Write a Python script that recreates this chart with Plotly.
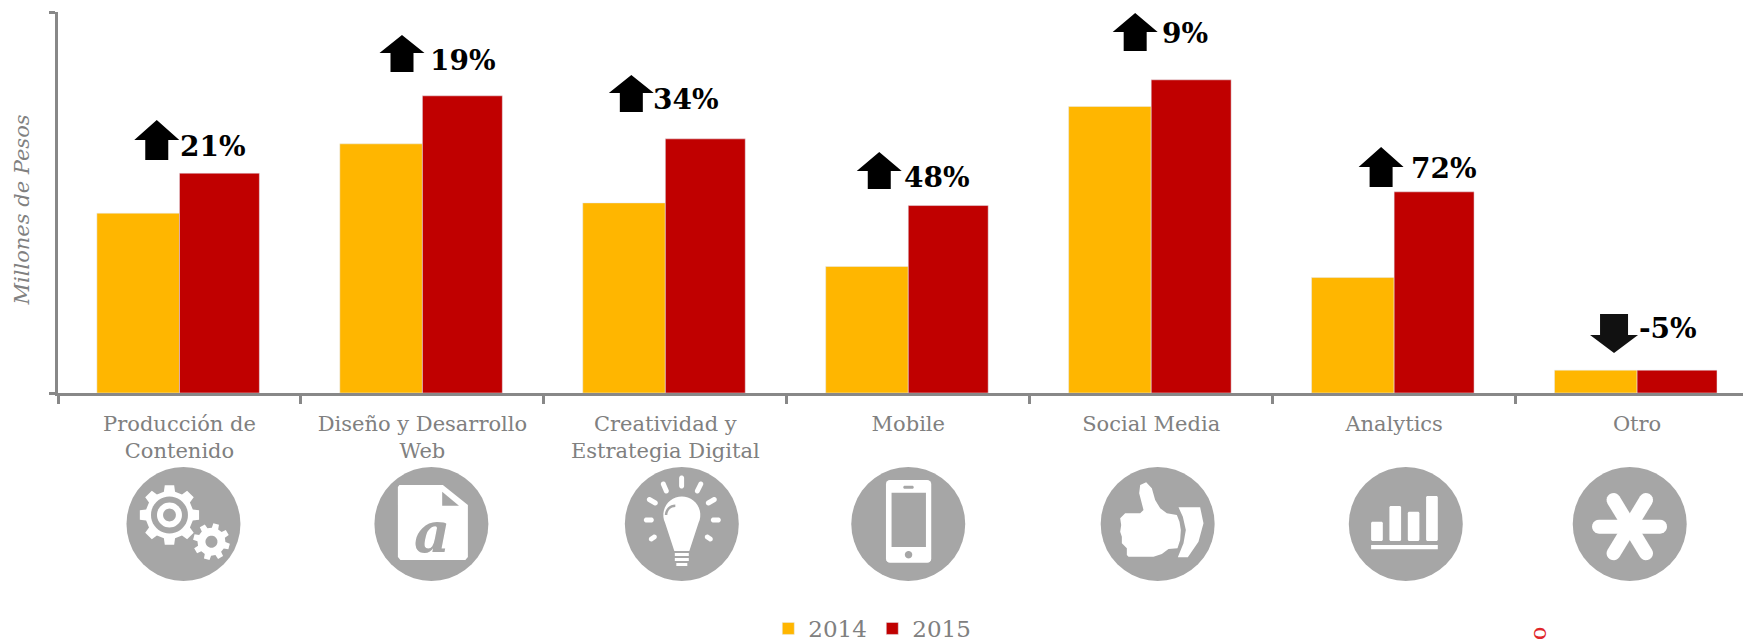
import math
import plotly.graph_objs as go

categorias = ["Producción de<br>Contenido", "Diseño y Desarrollo<br>Web", "Creatividad y<br>Estrategia Digital",
              "Mobile", "Social Media", "Analytics", "Otro"]
valores_2014 = [47.2, 65.4, 49.9, 33.2, 75.2, 30.3, 6.0]
valores_2015 = [57.7, 78.0, 66.7, 49.2, 82.2, 52.8, 6.0]
variaciones = ["21%", "19%", "34%", "48%", "9%", "72%", "-5%"]

# geometria de la pagina (px)
W, H = 1743, 642
L, R, T, B = 57.5, 1743, 12, 393
GRIS = "#888888"
CIRCULO = "#a6a6a6"
SERIF = "DejaVu Serif"


def px(x):
    return (x - L) / (R - L)


def py(y):
    return (B - y) / (B - T)


def ruta(puntos):
    return "M" + "L".join(f"{px(x):.5f},{py(y):.5f}" for x, y in puntos) + "Z"


def arco(cx, cy, r, a0, a1, n=10):
    return [(cx + r * math.cos(math.radians(a0 + (a1 - a0) * i / n)),
             cy + r * math.sin(math.radians(a0 + (a1 - a0) * i / n))) for i in range(n + 1)]


def forma(puntos, color="white"):
    return dict(type="path", xref="paper", yref="paper", path=ruta(puntos),
                fillcolor=color, line=dict(width=0), layer="above")


def disco(cx, cy, r, color="white"):
    return forma(arco(cx, cy, r, 0, 360, 40), color)


def capsula(x0, y0, x1, y1, ancho, color="white"):
    a = math.degrees(math.atan2(y1 - y0, x1 - x0))
    return forma(arco(x0, y0, ancho / 2, a + 90, a + 270) + arco(x1, y1, ancho / 2, a - 90, a + 90), color)


def caja(x0, y0, x1, y1, r=0, color="white"):
    if r == 0:
        return forma([(x0, y0), (x1, y0), (x1, y1), (x0, y1)], color)
    return forma(arco(x0 + r, y0 + r, r, 180, 270, 4) + arco(x1 - r, y0 + r, r, 270, 360, 4)
                 + arco(x1 - r, y1 - r, r, 0, 90, 4) + arco(x0 + r, y1 - r, r, 90, 180, 4), color)


def engrane(cx, cy, r_base, r_diente, dientes, giro=0):
    puntos = []
    paso = 360 / dientes
    for i in range(dientes):
        c = giro + i * paso
        puntos += [(cx + r_base * math.cos(math.radians(c - paso * .30)), cy + r_base * math.sin(math.radians(c - paso * .30))),
                   (cx + r_diente * math.cos(math.radians(c - paso * .20)), cy + r_diente * math.sin(math.radians(c - paso * .20))),
                   (cx + r_diente * math.cos(math.radians(c + paso * .20)), cy + r_diente * math.sin(math.radians(c + paso * .20))),
                   (cx + r_base * math.cos(math.radians(c + paso * .30)), cy + r_base * math.sin(math.radians(c + paso * .30)))]
    return forma(puntos)


def flecha(cx, punta, ala, fin, medio=22.5, tallo=11.5, color="black"):
    return forma([(cx, punta), (cx + medio, ala), (cx + tallo, ala), (cx + tallo, fin),
                  (cx - tallo, fin), (cx - tallo, ala), (cx - medio, ala)], color)


fig = go.Figure()
fig.add_trace(go.Bar(x=categorias, y=valores_2014, name="2014", marker_color="#ffb600", width=0.34, offset=-0.34))
fig.add_trace(go.Bar(x=categorias, y=valores_2015, name="2015", marker_color="#c00000", width=0.329, offset=0))

shapes = []

# flechas sobre cada grupo
shapes += [flecha(156.3, 120, 140, 160), flecha(401.6, 35, 53, 72), flecha(631, 75, 93, 112),
           flecha(879, 152, 171, 189), flecha(1135, 13, 32, 51), flecha(1381, 147, 167, 187),
           flecha(1614, 353, 335, 314, medio=24, tallo=14, color="#111111")]

# circulos de los iconos
centros = [183, 431, 681.5, 908, 1157.5, 1405.7, 1629.7]
shapes += [disco(c, 524, 57, CIRCULO) for c in centros]

# engranes
shapes += [engrane(169, 515, 24, 30, 8, 0), disco(169, 515, 18.5, CIRCULO), disco(169, 515, 12.5),
           disco(169, 515, 6.4, CIRCULO), engrane(211, 541.7, 14, 18.5, 8, 15), disco(211, 541.7, 6, CIRCULO)]

# archivo
shapes += [forma([(399, 485), (442.5, 485), (467.5, 505), (467.5, 557), (465, 560), (400, 560), (397.5, 557), (397.5, 487)]),
           forma([(441.8, 491.7), (458.6, 505.7), (441.8, 505.7)], CIRCULO)]

# foco
shapes += [capsula(a, b, c, d, 5) for a, b, c, d in [
    (681.3, 478, 681.3, 486), (663, 484, 666, 491), (700.5, 484, 697, 491), (649, 499.5, 655, 503),
    (714, 499.5, 708, 503), (646, 520, 651, 520), (713, 520, 718, 520), (651, 539, 654, 537), (710, 539, 707, 537)]]
shapes += [forma(arco(681.5, 515, 18.5, 155, 385, 24) + [(689, 551), (674, 551)]),
           forma(arco(675, 515, 10.5, 180, 270, 8) + arco(675, 515, 8, 270, 180, 8), CIRCULO),
           caja(674.5, 553, 688.5, 556), caja(674.5, 558, 688.5, 561), caja(676, 563, 687, 566)]

# telefono
shapes += [caja(885.7, 480, 931, 562.7, 4), caja(891.3, 492.7, 925.7, 547, 0, CIRCULO),
           capsula(904.5, 487.3, 912, 487.3, 3, CIRCULO), disco(908.3, 554.7, 3.7, CIRCULO)]

# pulgar
pulgar = [(925, 320), (1000, 320), (1025, 312), (1045, 297), (1072, 295), (1080, 270), (1082, 240), (1078, 215),
          (1070, 195), (1040, 190), (1020, 175), (1005, 150), (995, 115), (978, 97), (960, 105), (957, 130), (970, 180),
          (960, 190), (915, 190), (900, 205), (903, 225), (900, 245), (905, 260), (905, 280), (920, 295), (920, 315)]
banda = [(1075, 172), (1140, 172), (1150, 220), (1135, 275), (1103, 322), (1073, 322), (1090, 280), (1097, 240), (1088, 200)]
shapes += [forma([(820 + a / 3, 450 + b / 3) for a, b in pulgar]), forma([(820 + a / 3, 450 + b / 3) for a, b in banda])]

# barras del icono analytics
shapes += [caja(1371, 521.7, 1382.7, 541, 1.5), caja(1389.3, 506, 1401, 541, 1.5), caja(1407.7, 511.7, 1419.3, 541, 1.5),
           caja(1426, 496, 1437.7, 541, 1.5), caja(1371, 545, 1437.7, 549.3)]

# asterisco
shapes += [capsula(1599, 526.7, 1660, 526.7, 14), capsula(1613.5, 500, 1646, 553.3, 14), capsula(1646, 500, 1613.5, 553.3, 14)]

# etiquetas de variacion (x izquierda, y centro)
pos_etiquetas = [(178, 146), (428, 60), (651, 99), (902, 177), (1160, 34), (1409, 168), (1637, 328)]
annotations = [dict(text=t, x=px(x), y=py(y), xref="paper", yref="paper", xanchor="left", yanchor="middle",
                    showarrow=False, font=dict(family=SERIF, size=28, color="black", weight="bold"))
               for t, (x, y) in zip(variaciones, pos_etiquetas)]
annotations += [
    dict(text="<i>Millones de Pesos</i>", x=px(21), y=py(210), xref="paper", yref="paper", textangle=-90,
         xanchor="center", yanchor="middle", showarrow=False, font=dict(family=SERIF, size=21, color="#808080")),
    dict(text="<b><i>a</i></b>", x=px(432), y=py(532), xref="paper", yref="paper", xanchor="center", yanchor="middle",
         showarrow=False, font=dict(family=SERIF, size=56, color=CIRCULO)),
    dict(text="o", x=px(1538), y=py(634), xref="paper", yref="paper", textangle=-90, xanchor="center", yanchor="middle",
         showarrow=False, font=dict(family=SERIF, size=22, color="#e0262b")),
]

fig.update_layout(
    width=W, height=H,
    margin=dict(l=L, r=W - R, t=T, b=H - B, pad=0, autoexpand=False),
    paper_bgcolor="white", plot_bgcolor="white",
    barmode="group",
    showlegend=True,
    legend=dict(orientation="h", x=px(768), y=py(607), xanchor="left", yanchor="top",
                entrywidth=59, entrywidthmode="pixels", itemclick=False, traceorder="normal",
                font=dict(family=SERIF, size=23, color="#808080")),
    shapes=shapes,
    annotations=annotations,
    xaxis=dict(type="category", range=[-0.5, 6.436], tickson="boundaries", ticks="outside", ticklen=8,
               tickwidth=2.5, tickcolor=GRIS, showline=True, linecolor=GRIS, linewidth=2.5, showgrid=False,
               tickangle=0, ticklabelstandoff=10, tickfont=dict(family=SERIF, size=21, color="#808080")),
    yaxis=dict(range=[0, 100], tickvals=[0, 100], showticklabels=False, ticks="outside", ticklen=6,
               tickwidth=2.5, tickcolor=GRIS, showline=True, linecolor=GRIS, linewidth=2.5,
               showgrid=False, zeroline=False),
)

fig.write_html("out.html", config={"displayModeBar": False},
               post_script="document.body.style.margin='0';document.body.style.overflow='hidden';")
